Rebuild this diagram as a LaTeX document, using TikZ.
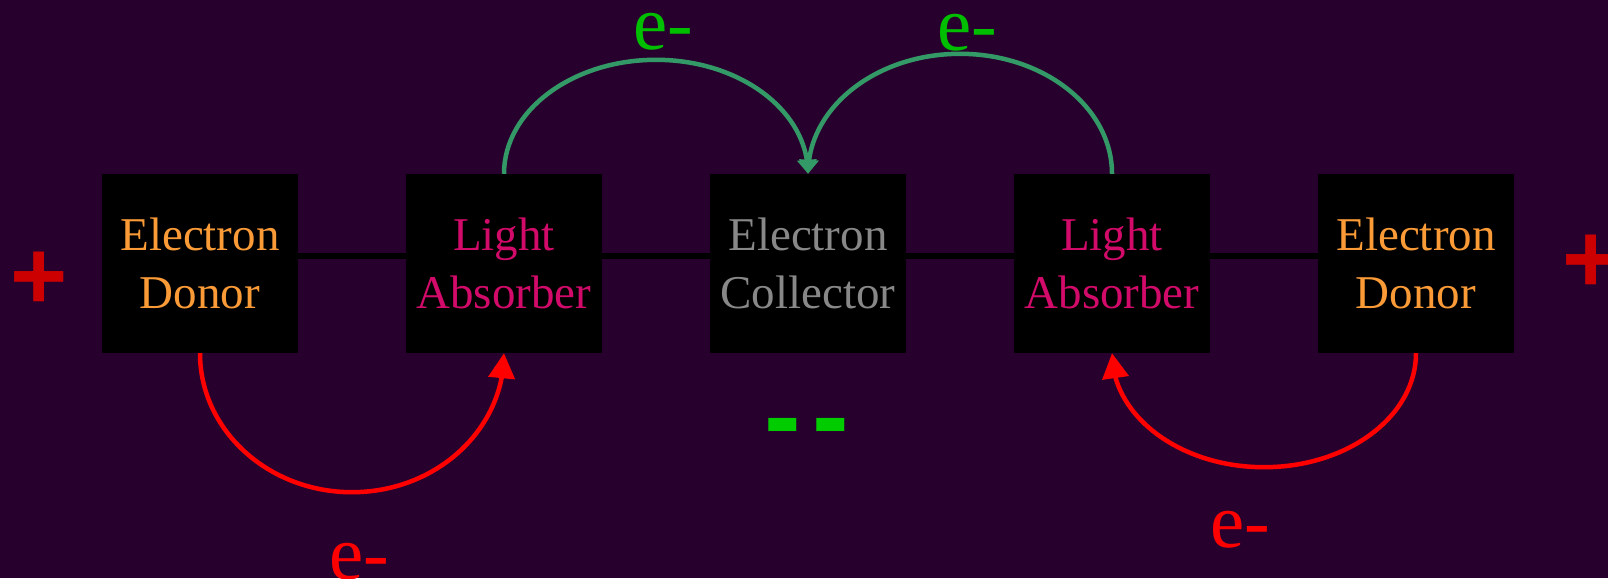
\documentclass[tikz,border=0pt]{standalone}
\usepackage{fontspec}
\setmainfont{Liberation Serif}
\newfontfamily\signfont{Liberation Sans}
\usetikzlibrary{arrows.meta,bending}

\definecolor{bgpurple}{RGB}{40,0,45}
\definecolor{donor}{RGB}{250,155,55}
\definecolor{absorber}{RGB}{210,10,105}
\definecolor{collector}{RGB}{136,136,136}
\definecolor{egreen}{RGB}{0,190,0}
\definecolor{dashgreen}{RGB}{0,204,0}
\definecolor{arcgreen}{RGB}{51,153,102}
\definecolor{plusred}{RGB}{204,0,0}

\begin{document}
\begin{tikzpicture}[x=1pt,y=-1pt,
  block/.style={fill=black, minimum width=196pt, minimum height=179pt,
    inner sep=0pt, align=center, font=\fontsize{47}{58}\selectfont},
  elabel/.style={anchor=base, inner sep=0pt, font=\fontsize{77}{80}\selectfont},
  sign/.style={inner sep=0pt, font=\signfont\bfseries\fontsize{98}{100}\selectfont},
  dashsign/.style={inner sep=0pt, font=\signfont\bfseries\fontsize{110}{110}\selectfont},
  flowup/.style={draw=arcgreen, line width=4.5pt, -{Triangle[length=14pt,width=19pt,flex]}},
  flowdown/.style={draw=red, line width=4.5pt, -{Triangle[length=25pt,width=26pt,flex]}},
  wire/.style={draw=black, line width=5.5pt}]
\useasboundingbox (0,0) rectangle (1608,578);
\fill[bgpurple] (0,0) rectangle (1608,578);

% the chain of blocks
\node[block, text=donor]     (d1) at (200,263.5)  {Electron\\Donor};
\node[block, text=absorber]  (a1) at (504,263.5)  {Light\\Absorber};
\node[block, text=collector] (c)  at (808,263.5)  {Electron\\Collector};
\node[block, text=absorber]  (a2) at (1112,263.5) {Light\\Absorber};
\node[block, text=donor]     (d2) at (1416,263.5) {Electron\\Donor};

% wires between neighbouring blocks
\draw[wire] ([yshift=7.5pt]d1.east) -- ([yshift=7.5pt]a1.west);
\draw[wire] ([yshift=7.5pt]a1.east) -- ([yshift=7.5pt]c.west);
\draw[wire] ([yshift=7.5pt]c.east)  -- ([yshift=7.5pt]a2.west);
\draw[wire] ([yshift=7.5pt]a2.east) -- ([yshift=7.5pt]d2.west);

% excited electrons jump to the collector (half ellipses over the blocks)
\draw[flowup] (a1.north) arc[start angle=180, end angle=0, x radius=152pt, y radius=114pt];
\draw[flowup] (a2.north) arc[start angle=0, end angle=180, x radius=152pt, y radius=120pt];

% donors refill the absorbers (half ellipses under the blocks)
\draw[flowdown] (d1.south) arc[start angle=180, end angle=360, x radius=152pt, y radius=139pt];
\draw[flowdown] (d2.south) arc[start angle=0, end angle=-180, x radius=152pt, y radius=114pt];

% electron labels
\node[elabel, text=egreen] (g1) at (663,50)  {e-};
\node[elabel, text=egreen] (g2) at (967,51)  {e-};
\node[elabel, text=red]    (r1) at (359,579) {e-};
\node[elabel, text=red]    (r2) at (1240,547) {e-};

% charges
\node[sign, text=plusred] (p1) at (39.5,281) {+};
\node[sign, text=plusred] (p2) at (1591,264) {+};
\node[dashsign, text=dashgreen] (m) at (806.5,436) {-\kern11pt-};
\end{tikzpicture}
\end{document}
